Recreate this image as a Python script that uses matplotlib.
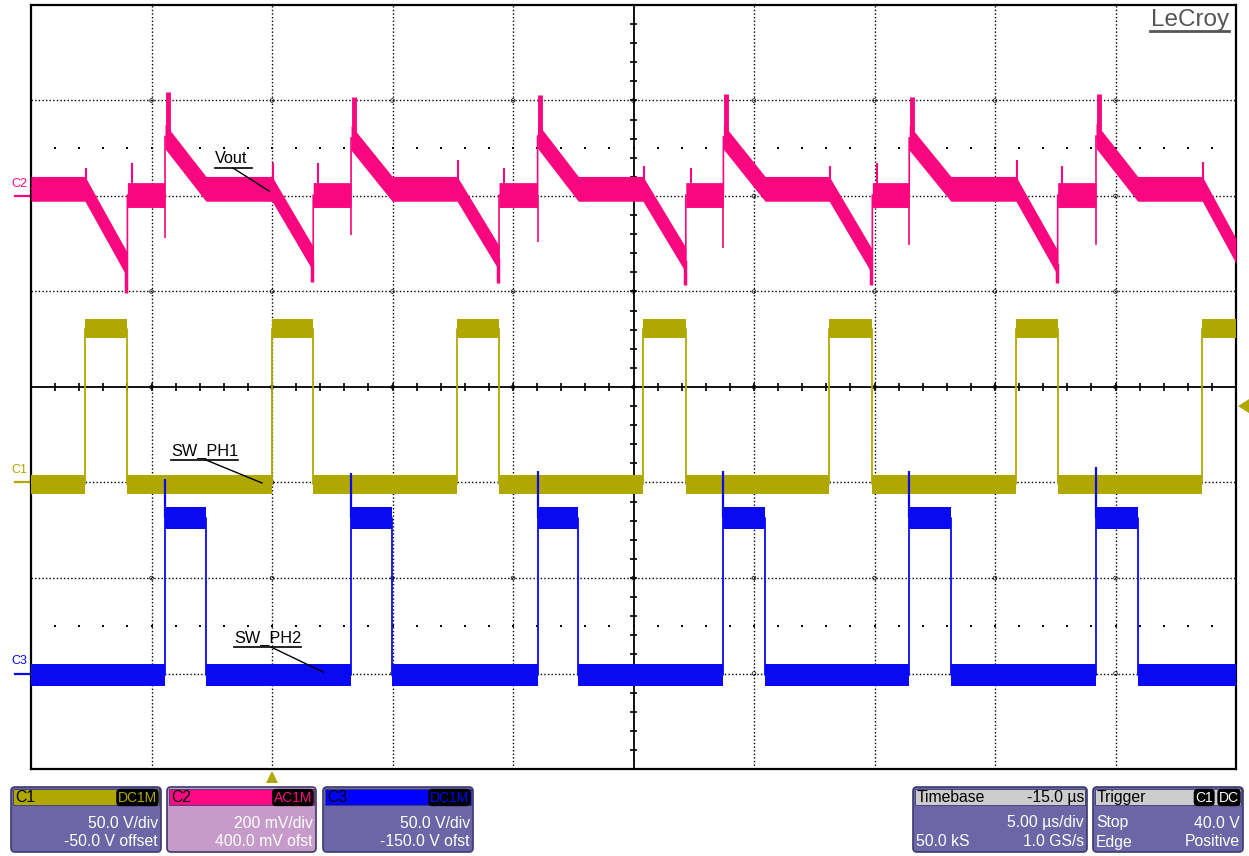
import numpy as np
import matplotlib.pyplot as plt
from matplotlib.patches import FancyBboxPatch, Rectangle, Polygon

plt.rcParams['font.family'] = ['Liberation Sans', 'DejaVu Sans']

# scope setup
t_per_div = 5.0          # us/div
t_delay = -15.0          # us (trigger shown 3 div left of centre)
t_start, t_stop = -10.0, 40.0
c1_vdiv, c1_ofst = 50.0, -50.0      # V/div, V
c2_vdiv, c2_ofst = 200.0, 400.0     # mV/div, mV
c3_vdiv, c3_ofst = 50.0, -150.0     # V/div, V
trig_level = 40.0                   # V on C1

# SW_PH1 (C1): edge times in us, levels in V
c1_rise = [-7.76, 0.0, 7.68, 15.39, 23.12, 30.87, 38.60]
c1_fall = [-6.00, 1.71, 9.42, 17.17, 24.91, 32.60]
c1_low, c1_high = -1.0, 80.4

# SW_PH2 (C3)
c3_rise = [-4.44, 3.28, 11.02, 18.73, 26.44, 34.19]
c3_fall = [-2.74, 4.99, 12.71, 20.46, 28.17, 35.92]
c3_low, c3_high = -0.8, 81.4
c3_overshoot = [102, 105, 106, 106, 106, 108]

# Vout (C2), mV, one value per switching cycle
vout_base = 15
vout_mid = 2
vout_valley = [-145, -132, -130, -134, -138, -140]
vout_min = [-203, -180, -182, -186, -186, -182]
vout_peak = [218, 207, 211, 214, 207, 214]
vout_knee = [125, 122, 126, 124, 122, 126]
vout_dip = [-88, -82, -96, -109, -103, -103]
vout_on_spike = [59, 69, 75, 63, 63, 75, 71]
vout_off_spike = [69, 69, 59, 59, 69, 63]
vout_tail = -115

YELLOW = '#b0a800'
PINK = '#f8077f'
BLUE = '#0a0af2'


def xdiv(t):
    return (np.asarray(t, dtype=float) + t_delay) / t_per_div + 5


def ydiv(v, vdiv, ofst):
    return (np.asarray(v, dtype=float) + ofst) / vdiv


def square_wave(rises, falls, low, high):
    ev = sorted([(r, 1) for r in rises] + [(f, 0) for f in falls])
    t, v = [t_start], [low]
    for te, up in ev:
        if up:
            t += [te, te]; v += [low, high]
        else:
            t += [te, te]; v += [high, low]
    t.append(t_stop); v.append(v[-1])
    return np.array(t), np.array(v)


fig = plt.figure(figsize=(12.49, 8.56), dpi=100)
W, H = 1249, 856
x0, x1, y0, y1 = 31, 1236, 5, 769
ax = fig.add_axes([x0 / W, 1 - y1 / H, (x1 - x0) / W, (y1 - y0) / H])
ax.set_xlim(0, 10)
ax.set_ylim(-4, 4)
ax.set_xticks([]); ax.set_yticks([])
for s in ax.spines.values():
    s.set_linewidth(1.6)

# graticule
for i in range(1, 10):
    if i != 5:
        ax.axvline(i, color='k', lw=1.0, ls=(0, (1, 1.6)), zorder=1)
for j in range(-3, 4):
    if j != 0:
        ax.axhline(j, color='k', lw=1.0, ls=(0, (1, 1.6)), zorder=1)
ax.axhline(0, color='k', lw=1.3, zorder=1)
ax.axvline(5, color='k', lw=1.3, zorder=1)
xt = np.arange(0.2, 10, 0.2)
yt = np.arange(-3.8, 4, 0.2)
ax.vlines(xt, -0.04, 0.04, color='k', lw=1.2, zorder=1)
ax.hlines(yt, 4.967, 5.033, color='k', lw=1.2, zorder=1)
for yy in (2.5, -2.5):
    ax.scatter(xt, np.full_like(xt, yy), s=1.5, marker='s', color='k', lw=0, zorder=1)
gx, gy = np.meshgrid(np.arange(1, 10), np.arange(-3, 4))
ax.scatter(gx.ravel(), gy.ravel(), s=7, facecolors='none', edgecolors='k', lw=0.5, zorder=1)

# --- C2 Vout ---
t2, v2 = [t_start], [vout_base]
for k in range(len(c1_fall)):
    r1, f1, r3, f3 = c1_rise[k], c1_fall[k], c3_rise[k], c3_fall[k]
    t2 += [r1, f1, f1, r3, r3, f3]
    v2 += [vout_base, vout_valley[k], vout_mid, vout_mid, vout_knee[k], vout_base]
t2 += [c1_rise[-1], t_stop]
v2 += [vout_base, vout_tail]
X2 = xdiv(t2); Y2 = ydiv(v2, c2_vdiv, c2_ofst)
ax.fill_between(X2, Y2 - 0.13, Y2 + 0.13, color=PINK, lw=0, zorder=3)
ax.plot(X2, Y2, color=PINK, lw=1.2, zorder=3)
c2y = lambda v: ydiv(v, c2_vdiv, c2_ofst)
for k in range(len(c1_fall)):
    r1, f1, r3 = c1_rise[k], c1_fall[k], c3_rise[k]
    ax.vlines(xdiv(r1 + 0.05), c2y(vout_base), c2y(vout_on_spike[k]), color=PINK, lw=1.5, zorder=3)
    ax.vlines(xdiv(f1 - 0.04), c2y(vout_valley[k]), c2y(vout_min[k]), color=PINK, lw=2.5, zorder=3)
    ax.vlines(xdiv(f1 + 0.2), c2y(vout_mid), c2y(vout_off_spike[k]), color=PINK, lw=1.5, zorder=3)
    ax.vlines(xdiv(r3), c2y(vout_mid), c2y(vout_dip[k]), color=PINK, lw=1.2, zorder=3)
    ax.vlines(xdiv(r3 + 0.12), c2y(vout_knee[k]), c2y(vout_peak[k]), color=PINK, lw=3.5, zorder=3)
ax.vlines(xdiv(c1_rise[-1] + 0.05), c2y(vout_base), c2y(vout_on_spike[-1]), color=PINK, lw=1.5, zorder=3)

# --- C1 SW_PH1 ---
t1, v1 = square_wave(c1_rise, c1_fall, c1_low, c1_high)
X1 = xdiv(t1); Y1 = ydiv(v1, c1_vdiv, c1_ofst)
ax.fill_between(X1, Y1 - 0.1, Y1 + 0.1, color=YELLOW, lw=0, zorder=4)
ax.plot(X1, Y1, color=YELLOW, lw=1.3, zorder=4)

# --- C3 SW_PH2 ---
t3, v3 = square_wave(c3_rise, c3_fall, c3_low, c3_high)
X3 = xdiv(t3); Y3 = ydiv(v3, c3_vdiv, c3_ofst)
ax.fill_between(X3, Y3 - 0.115, Y3 + 0.115, color=BLUE, lw=0, zorder=5)
ax.plot(X3, Y3, color=BLUE, lw=1.3, zorder=5)
ax.vlines(xdiv(c3_rise), ydiv(c3_high, c3_vdiv, c3_ofst),
          ydiv(c3_overshoot, c3_vdiv, c3_ofst), color=BLUE, lw=1.6, zorder=5)

# channel ground markers on the left
for name, col, ofs in [('C2', PINK, c2_ofst / c2_vdiv), ('C1', YELLOW, c1_ofst / c1_vdiv),
                       ('C3', BLUE, c3_ofst / c3_vdiv)]:
    ax.plot([-0.133, 0], [ofs, ofs], color=col, lw=1.6, clip_on=False)
    ax.text(-0.16, ofs + 0.13, name, color=col, fontsize=9, ha='left', va='center')

# overlay in pixel coordinates
ov = fig.add_axes([0, 0, 1, 1], zorder=10)
ov.set_xlim(0, W); ov.set_ylim(H, 0)
ov.axis('off')
ov.patch.set_alpha(0)

# trigger markers
tx = x0 + xdiv(0) * (x1 - x0) / 10
ov.add_patch(Polygon([(tx - 6, 783), (tx + 6, 783), (tx, 771)], closed=True, fc=YELLOW, ec='none'))
ty = y0 + (4 - ydiv(trig_level, c1_vdiv, c1_ofst)) * (y1 - y0) / 8
ov.add_patch(Polygon([(1249, ty - 7), (1249, ty + 7), (1238, ty)], closed=True, fc=YELLOW, ec='none'))

# labels
ov.text(1229, 26, 'LeCroy', color='#555555', fontsize=17.5, ha='right', va='baseline')
ov.plot([1150, 1229], [30.5, 30.5], color='#555555', lw=2.0)

ov.text(215, 163, 'Vout', fontsize=11.7, ha='left', va='baseline')
ov.plot([215, 252], [168, 168], color='k', lw=1.2)
ov.plot([233, 269], [168, 191], color='k', lw=1.0)
ov.text(171, 456, 'SW_PH1', fontsize=11.7, ha='left', va='baseline')
ov.plot([171, 238], [460, 460], color='k', lw=1.2)
ov.plot([206, 262], [460, 483], color='k', lw=1.0)
ov.text(234, 643, 'SW_PH2', fontsize=11.7, ha='left', va='baseline')
ov.plot([234, 301], [647, 647], color='k', lw=1.2)
ov.plot([271, 323], [647, 672], color='k', lw=1.0)

# info panels
BODY = '#6c66a6'
FS = 11.3


def panel(xa, xb, head_fc, body_fc, title, rows, head_right=None, badges=()):
    ov.add_patch(FancyBboxPatch((xa, 787), xb - xa, 65, boxstyle='round,pad=0,rounding_size=4',
                                fc=body_fc, ec='#3d3970', lw=1.2))
    ov.add_patch(Rectangle((xa + 2, 789), xb - xa - 4, 16, fc=head_fc, ec='#3d3970', lw=0.6))
    ov.text(xa + 4, 797.5, title, fontsize=FS, color='k', va='center', ha='left')
    if head_right:
        ov.text(xb - 3, 797.5, head_right, fontsize=FS, color='k', va='center', ha='right')
    xr = xb - 4
    for txt, col in reversed(badges):
        ov.text(xr, 797.5, txt, fontsize=10, color=col, va='center', ha='right',
                bbox=dict(boxstyle='round,pad=0.12,rounding_size=0.3', fc='black', ec='none'))
        xr -= 10 * len(txt) + 6
    for i, (lt, rt) in enumerate(rows):
        yy = 823 + 19 * i
        if lt:
            ov.text(xa + 3, yy, lt, fontsize=FS, color='white', va='center', ha='left')
        if rt:
            ov.text(xb - 3, yy, rt, fontsize=FS, color='white', va='center', ha='right')


panel(11, 161, YELLOW, BODY, 'C1', [('', '50.0 V/div'), ('', '-50.0 V offset')],
      badges=[('DC1M', YELLOW)])
panel(167, 316, '#ff0a84', '#c79bc9', 'C2', [('', '200 mV/div'), ('', '400.0 mV ofst')],
      badges=[('AC1M', '#ff0a84')])
panel(323, 473, '#0000ff', BODY, 'C3', [('', '50.0 V/div'), ('', '-150.0 V ofst')],
      badges=[('DC1M', '#0000ff')])
panel(913, 1087, '#cccccc', BODY, 'Timebase', [('', '5.00 µs/div'), ('50.0 kS', '1.0 GS/s')],
      head_right='-15.0 µs')
panel(1093, 1243, '#cccccc', BODY, 'Trigger', [('Stop', '40.0 V'), ('Edge', 'Positive')],
      badges=[('C1', 'white'), ('DC', 'white')])

fig.savefig('out.png', dpi=100)
